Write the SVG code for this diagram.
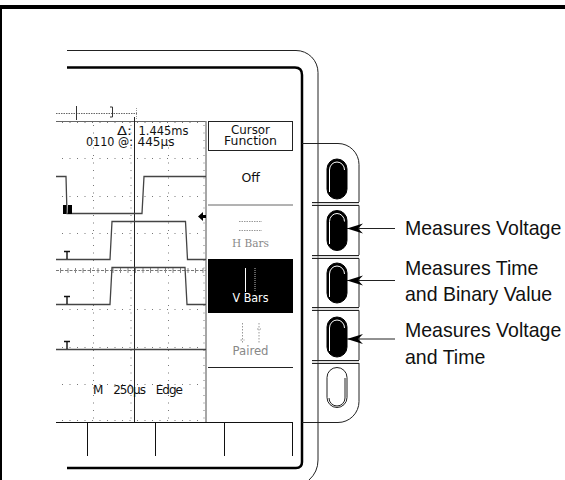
<svg xmlns="http://www.w3.org/2000/svg" width="565" height="480" viewBox="0 0 565 480">
<defs>
<marker id="ah" markerUnits="userSpaceOnUse" markerWidth="18" markerHeight="14" refX="17" refY="7" orient="auto"><path d="M17 7L1 2L6 7L1 12Z" fill="#000"/></marker>
</defs>
<style>
.scr{font-family:"DejaVu Sans",sans-serif;font-size:12px;fill:#111}
.lbl{font-family:"Liberation Sans",Arial,sans-serif;font-size:21px;fill:#111}
.dim{font-family:"DejaVu Serif",serif;font-size:11px;fill:#888}
.dots{stroke:#777;stroke-width:1;stroke-dasharray:1 6.5;fill:none}
.wave{stroke:#444;stroke-width:1.300;fill:none}
.ln{stroke:#222;stroke-width:1;fill:none}
.btn{fill:#000;stroke:#000}
.hl{fill:none;stroke:#fff;stroke-width:1}
</style>
<rect y="5" width="565" height="4" fill="#000"/>
<rect y="5" width="2" height="475" fill="#000"/>
<g id="bezel">
<path class="ln" d="M67 50.500H296A22 22 0 0 1 318 72.500V460Q318 472 309 480"/>
<path d="M67 67.500H295Q302 67.500 302 75V462Q302 468 296 468H67" fill="none" stroke="#000" stroke-width="2.500"/>
</g>
<g id="screen">
<path class="dots" d="M62 158.500H204M62 196.500H204M62 233.500H204M62 309.500H204M62 347.500H204M62 384.500H204M62 420.500H204"/>
<path class="dots" d="M62 122.500H204"/>
<path class="dots" d="M93.500 125V420M131 125V420M168.500 125V420M204 125V420"/>
<path d="M56 121.500H206" stroke="#666" stroke-width="1"/>
<path d="M206 121V422" stroke="#888" stroke-width="1.500"/>
<path d="M56 113.500H137" stroke="#666" stroke-dasharray="1.500 1" fill="none"/>
<path d="M76.500 106V120M110 107H112.500V117H110" stroke="#333" fill="none"/>
<path d="M136.500 108V120" stroke="#999" stroke-dasharray="1 1" fill="none"/>
<path d="M56 270.500H206" stroke="#777" stroke-dasharray="3 1.500" fill="none"/>
<path d="M60 270.500H206" stroke="#888" stroke-width="5" stroke-dasharray="1 6.500" fill="none"/>
<path d="M134.500 117V422" stroke="#222" fill="none"/>
<path class="wave" d="M56 176.500H66L67 213.500H142L144 176.500H206"/>
<path class="wave" d="M56 259.500H110L112 221.500H185.500L187.500 259.500H206"/>
<path class="wave" d="M56 304.500H110L112 267.500H185L187 304.500H206"/>
<path class="wave" d="M56 349.500H206"/>
<path d="M63 205H66.500V214H63ZM68 205H72V214H68Z" fill="#000"/>
<path d="M198 216.500L203 212V215H206V218H203V221Z" fill="#000"/>
<path d="M64 251.500H70M67 251.500V259M64 296.500H70M67 296.500V304M64 341.500H70M67 341.500V349" stroke="#111" stroke-width="1.400" fill="none"/>
<text class="scr" x="117" y="135" textLength="15" lengthAdjust="spacingAndGlyphs">Δ:</text>
<text class="scr" x="138.500" y="135" textLength="50" lengthAdjust="spacingAndGlyphs">1.445ms</text>
<text class="scr" x="86" y="146" textLength="47" lengthAdjust="spacingAndGlyphs">0110 @:</text>
<text class="scr" x="137.500" y="146" textLength="37" lengthAdjust="spacingAndGlyphs">445µs</text>
<text class="scr" x="93" y="394" textLength="90" lengthAdjust="spacing" style="word-spacing:8px">M 250µs Edge</text>
</g>
<g id="softkeys">
<path d="M56 422.500H293M87.500 422V456M155.500 422V456M224.500 422V456M292.500 422V456" stroke="#111" fill="none"/>
</g>
<g id="menu">
<rect x="208.500" y="121.500" width="84" height="29" fill="#fff" stroke="#222"/>
<text class="scr" x="231" y="134" textLength="39" lengthAdjust="spacingAndGlyphs">Cursor</text>
<text class="scr" x="224" y="145" textLength="53" lengthAdjust="spacingAndGlyphs">Function</text>
<text class="scr" x="241.500" y="182" textLength="18.500" lengthAdjust="spacingAndGlyphs">Off</text>
<path d="M208 205H293" stroke="#666" stroke-width="1"/>
<path d="M239 221.500H262M239 230.500H262" stroke="#999" stroke-dasharray="1.500 1" fill="none"/>
<text class="dim" x="232" y="247" textLength="37" lengthAdjust="spacingAndGlyphs">H Bars</text>
<rect x="208" y="259" width="85" height="54" fill="#000"/>
<path d="M245.500 268V292" stroke="#fff"/>
<path d="M255 268V292" stroke="#bbb" stroke-dasharray="1 1"/>
<text class="scr" x="232.500" y="302" textLength="36" lengthAdjust="spacingAndGlyphs" style="fill:#fff">V Bars</text>
<path d="M242.500 323V343M259 323V343M240.500 340H244.500M257 329H261" stroke="#999" stroke-dasharray="1.500 1.500" fill="none"/>
<text class="scr" x="232.500" y="355" textLength="36" lengthAdjust="spacingAndGlyphs" style="fill:#888">Paired</text>
<path d="M208 367.500H293" stroke="#222"/>
</g>
<g id="panel">
<path class="ln" d="M302 143.500H338A21 21 0 0 1 359 164.500V202M302 422.500H338A21 21 0 0 0 359 401.500V363"/>
<path class="ln" d="M359 205.500V255M359 258.500V307M359 310.500V360"/>
<path d="M312 202.500H359M312 205.500H359M312 255.500H359M312 258.500H359M312 307.500H359M312 310.500H359M312 360.500H359M312 363.500H359" stroke="#222" fill="none"/>
<path d="M312 204H359M312 257H359M312 309H359M312 362H359" stroke="#bbb" fill="none"/>
</g>
<g id="button1"><rect class="btn" x="327" y="159" width="20" height="40" rx="10"/><path class="hl" d="M329.500 192V170A7.500 8 0 0 1 344.500 170"/></g>
<g id="button2"><rect class="btn" x="327" y="210.500" width="20" height="40" rx="10"/><path class="hl" d="M329.500 244V221.500A7.500 8 0 0 1 344.500 221.500"/></g>
<g id="button3"><rect class="btn" x="327" y="263" width="20" height="40" rx="10"/><path class="hl" d="M329.500 297V274A7.500 8 0 0 1 344.500 274"/></g>
<g id="button4"><rect class="btn" x="327" y="317" width="20" height="40" rx="10"/><path class="hl" d="M329.500 351V328A7.500 8 0 0 1 344.500 328"/></g>
<g id="button5"><rect x="327" y="367.500" width="20" height="40" rx="10" fill="#fff" stroke="#222"/><path d="M329 398A8 8 0 0 0 345 398M345 378V398" stroke="#222" fill="none"/></g>
<g id="connectors">
<path d="M395 228.500H347" class="ln" stroke-width="1.200" marker-end="url(#ah)"/>
<path d="M395 280.500H347" class="ln" stroke-width="1.200" marker-end="url(#ah)"/>
<path d="M395 339H347" class="ln" stroke-width="1.200" marker-end="url(#ah)"/>
</g>
<g id="label1"><text class="lbl" transform="translate(405 235) scale(.93 1)">Measures Voltage</text></g>
<g id="label2"><text class="lbl" transform="translate(405 275) scale(.93 1)">Measures Time</text><text class="lbl" transform="translate(405 301) scale(.93 1)">and Binary Value</text></g>
<g id="label3"><text class="lbl" transform="translate(405 337) scale(.93 1)">Measures Voltage</text><text class="lbl" transform="translate(405 364) scale(.93 1)">and Time</text></g>
</svg>
